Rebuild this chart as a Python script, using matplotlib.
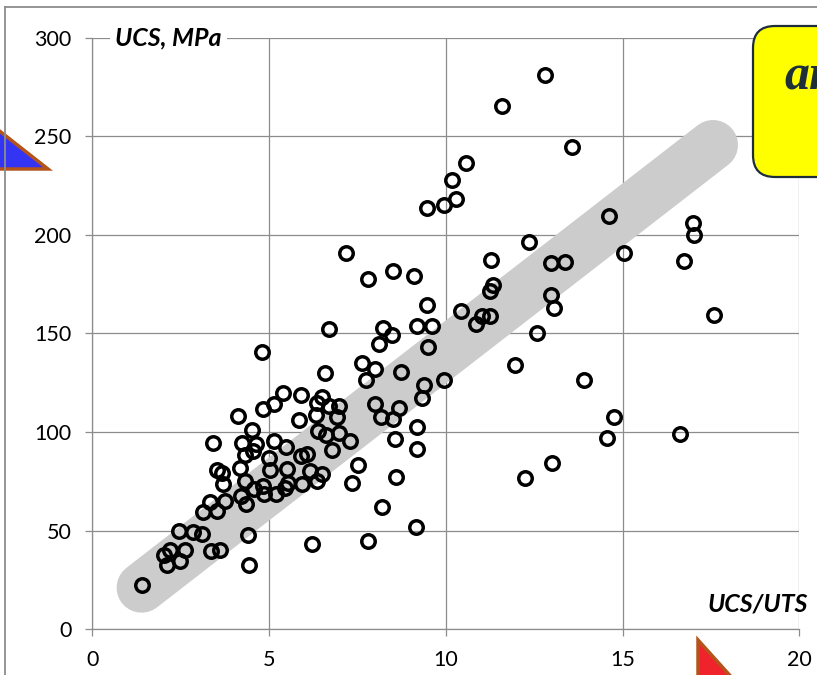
import matplotlib
matplotlib.use("Agg")
import matplotlib.pyplot as plt
from matplotlib.patches import Polygon, FancyBboxPatch
from matplotlib.lines import Line2D
from matplotlib.transforms import IdentityTransform

# UCS/UTS ratio (x) and UCS in MPa (y)
ucs_uts = [1.42, 2.03, 2.20, 2.12, 2.48, 2.63, 2.46, 2.86, 3.12, 3.37,
           3.63, 3.14, 3.54, 3.34, 3.77, 4.45, 4.40, 4.20, 4.35, 4.58,
           4.82, 4.85, 5.20, 5.46, 5.55, 5.95, 6.35, 3.70, 4.33, 3.52,
           3.67, 4.18, 5.02, 5.50, 6.16, 6.50, 5.00, 5.90, 6.07, 5.49,
           6.78, 4.33, 4.56, 3.43, 4.23, 4.63, 5.15, 4.53, 4.13, 4.84,
           5.15, 5.41, 5.91, 5.84, 4.81, 6.35, 6.50, 6.70, 6.99, 6.33,
           6.94, 6.38, 6.62, 6.97, 7.29, 6.60, 6.70, 7.17, 7.52, 7.35,
           6.21, 7.80, 8.19, 9.16, 8.59, 8.58, 9.18, 9.18, 8.16, 8.50,
           8.01, 8.69, 9.32, 9.39, 9.96, 7.74, 7.63, 8.01, 8.74, 8.12,
           9.49, 8.24, 8.48, 9.18, 9.62, 9.47, 7.81, 8.52, 9.09, 9.47,
           9.96, 10.30, 10.17, 10.58, 11.58, 12.82, 13.56, 14.63, 16.99, 17.01,
           12.35, 15.04, 16.74, 11.28, 12.99, 13.37, 11.33, 11.26, 12.99, 13.07,
           17.58, 10.44, 11.02, 11.24, 10.86, 12.58, 11.95, 13.90, 14.77, 14.57,
           16.64, 13.01, 12.23]
ucs = [22.7, 37.9, 40.4, 32.4, 34.8, 40.2, 49.9, 49.1, 48.3, 39.9,
       40.4, 59.6, 59.9, 64.7, 65.2, 32.6, 47.8, 67.5, 63.5, 71.2,
       72.5, 68.5, 68.5, 71.5, 74.0, 73.5, 75.0, 73.7, 75.4, 81.0,
       79.1, 82.0, 80.8, 81.3, 80.3, 78.8, 86.9, 87.9, 88.9, 92.3,
       90.9, 88.2, 90.6, 94.6, 94.3, 94.0, 95.6, 101.2, 108.2, 111.9,
       114.2, 119.7, 118.6, 106.1, 140.7, 114.9, 118.0, 113.2, 113.2, 108.8,
       107.5, 100.4, 98.7, 99.7, 95.3, 129.8, 152.3, 190.7, 83.5, 74.3,
       43.5, 44.9, 61.9, 51.7, 77.4, 96.7, 91.4, 102.6, 107.6, 106.6,
       114.5, 112.4, 117.4, 123.7, 126.4, 126.2, 135.2, 132.0, 130.6, 144.5,
       143.0, 152.9, 149.4, 154.0, 154.0, 164.6, 177.5, 181.7, 179.2, 213.6,
       215.3, 218.1, 227.7, 236.5, 265.5, 281.2, 244.7, 209.6, 206.0, 200.1,
       196.2, 190.7, 186.9, 187.1, 185.6, 186.1, 174.4, 171.7, 169.7, 163.1,
       159.4, 161.4, 158.9, 158.9, 155.0, 150.3, 134.2, 126.4, 107.5, 97.2,
       99.2, 84.2, 76.9]

# grey trend band (end points)
band_x = [1.40, 17.56]
band_y = [21.1, 245.6]

x_ticks = [0, 5, 10, 15, 20]
y_ticks = [0, 50, 100, 150, 200, 250, 300]

W, H = 817, 675
fig = plt.figure(figsize=(W / 100, H / 100), dpi=100)
ax = fig.add_axes([92.1 / W, (H - 629.3) / H, 707.2 / W, 591.6 / H])

grid_c = "#8c8c8c"
ax.set_xlim(0, 20)
ax.set_ylim(0, 300)
ax.set_xticks(x_ticks)
ax.set_yticks(y_ticks)
ax.grid(True, color=grid_c, lw=0.9, zorder=0)
ax.set_axisbelow(True)
for s in ["top", "right"]:
    ax.spines[s].set_visible(False)
for s in ["left", "bottom"]:
    ax.spines[s].set_color(grid_c)
    ax.spines[s].set_linewidth(0.9)
ax.tick_params(direction="out", length=5, width=0.9, color=grid_c, pad=10,
               labelsize=15.5)
for lab in ax.get_xticklabels() + ax.get_yticklabels():
    lab.set_fontfamily(["Lato", "DejaVu Sans"])

# band behind the points
ax.plot(band_x, band_y, color="#cccccc", lw=36, solid_capstyle="round", zorder=1)

ax.plot(ucs_uts, ucs, "o", ms=9.7, mfc="none", mec="black", mew=2.5,
        zorder=3, clip_on=False)

# axis titles
lab_font = ["Lato", "DejaVu Sans"]
ax.text(0.033, 1.0, "UCS, MPa", transform=ax.transAxes, ha="left", va="center",
        fontsize=18, fontweight="bold", fontstyle="italic", family=lab_font,
        bbox=dict(facecolor="white", edgecolor="none", pad=4), zorder=5)
fig.text(808 / W, 1 - 604 / H, "UCS/UTS", ha="right", va="center",
         fontsize=18, fontweight="bold", fontstyle="italic", family=lab_font)

# outer frame of the slide
fig.add_artist(Line2D([5 / W, 5 / W], [0, 1 - 7 / H], color=grid_c, lw=1.3))
fig.add_artist(Line2D([5 / W, 1], [1 - 7 / H, 1 - 7 / H], color=grid_c, lw=1.3))

# decorations cut off at the picture edges
pix = IdentityTransform()
blue = Polygon([(-12, H - 122), (48, H - 169), (-12, H - 169)], closed=True,
               facecolor="#3434f4", edgecolor="#b5541a", lw=2.5, transform=pix)
fig.add_artist(blue)
red = Polygon([(698, H - 640), (752, H - 700), (698, H - 700)], closed=True,
              facecolor="#f0232d", edgecolor="#b5541a", lw=2.5, transform=pix)
fig.add_artist(red)

box = FancyBboxPatch((753, H - 177), 110, 151,
                     boxstyle="round,pad=0,rounding_size=22",
                     facecolor="#ffff00", edgecolor="#1e2d3b", lw=1.6,
                     transform=pix)
fig.add_artist(box)
fig.text(784, H - 90, "ar", transform=pix, fontsize=36, fontweight="bold",
         fontstyle="italic", family="Liberation Serif", color="#1f2f3a",
         ha="left", va="baseline")

fig.savefig("out.png", dpi=100)
